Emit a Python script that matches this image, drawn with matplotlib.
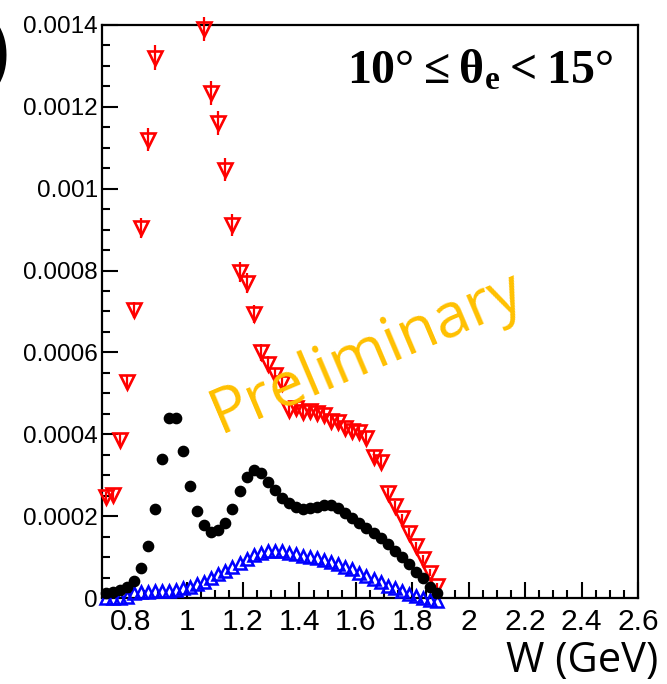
import numpy as np
import matplotlib
matplotlib.use('Agg')
import matplotlib.pyplot as plt
from matplotlib.ticker import MultipleLocator, FuncFormatter

nan = np.nan

# bin centres in W (GeV)
W = [0.7125, 0.7375, 0.7625, 0.7875, 0.8125, 0.8375, 0.8625, 0.8875,
     0.9125, 0.9375, 0.9625, 0.9875, 1.0125, 1.0375, 1.0625, 1.0875,
     1.1125, 1.1375, 1.1625, 1.1875, 1.2125, 1.2375, 1.2625, 1.2875,
     1.3125, 1.3375, 1.3625, 1.3875, 1.4125, 1.4375, 1.4625, 1.4875,
     1.5125, 1.5375, 1.5625, 1.5875, 1.6125, 1.6375, 1.6625, 1.6875,
     1.7125, 1.7375, 1.7625, 1.7875, 1.8125, 1.8375, 1.8625, 1.8875]

# red open down-triangles (off scale between 0.9 and 1.05)
red = [0.000247, 0.000252, 0.000386, 0.000528, 0.000704, 0.000904, 0.00112, 0.00132,
       nan, nan, nan, nan, nan, nan, 0.00139, 0.001234,
       0.00116, 0.001046, 0.000911, 0.000796, 0.00077, 0.000693, 0.0006, 0.000571,
       0.000545, 0.000525, 0.00046, 0.000464, 0.000455, 0.000458, 0.000452, 0.000446,
       0.000432, 0.00043, 0.000416, 0.000408, 0.000405, 0.00039, 0.000345, 0.000333,
       0.000257, 0.000225, 0.000195, 0.00016, 0.000128, 0.000095, 0.000062, 0.00003]
red_err = [0.000012, 0.000012, 0.000015, 0.000018, 0.00002, 0.000024, 0.000028, 0.00003,
           nan, nan, nan, nan, nan, nan, 0.00003, 0.00003,
           0.00003, 0.000028, 0.000026, 0.000024, 0.000024, 0.000022, 0.00002, 0.00002,
           0.000018, 0.000018, 0.000016, 0.000016, 0.000016, 0.000016, 0.000016, 0.000016,
           0.000015, 0.000015, 0.000015, 0.000015, 0.000015, 0.000015, 0.000014, 0.000014,
           0.000012, 0.000012, 0.000011, 0.00001, 0.00001, 0.000009, 0.000008, 0.000006]

# black filled circles
black = [0.000012, 0.000015, 0.00002, 0.000027, 0.000042, 0.000073, 0.000127, 0.000217,
         0.00034, 0.00044, 0.00044, 0.000359, 0.000274, 0.000213, 0.000178, 0.000161,
         0.000166, 0.000183, 0.000217, 0.000262, 0.000295, 0.000312, 0.000305, 0.000283,
         0.000264, 0.000244, 0.000232, 0.000222, 0.000217, 0.00022, 0.000222, 0.000227,
         0.000227, 0.00022, 0.000208, 0.000195, 0.000183, 0.000171, 0.000159, 0.000147,
         0.000132, 0.000115, 0.0001, 0.000083, 0.000064, 0.000049, 0.000027, 0.000012]

# blue open up-triangles
blue = [0.0, 0.0, 0.0, 0.000003, 0.000013, 0.000014, 0.000015, 0.000016,
        0.000017, 0.000018, 0.000019, 0.000024, 0.000027, 0.000034, 0.00004, 0.00005,
        0.000058, 0.000066, 0.000077, 0.000086, 0.000096, 0.000104, 0.00011, 0.000114,
        0.000115, 0.000114, 0.000111, 0.000107, 0.000103, 0.0001, 0.000097, 0.000093,
        0.000088, 0.000083, 0.000076, 0.00007, 0.000062, 0.000054, 0.000046, 0.000038,
        0.00003, 0.000024, 0.000017, 0.000011, 0.000005, 0.0, -0.000004, -0.000008]

fig = plt.figure(figsize=(6.67, 6.84), dpi=100)
ax = fig.add_axes([0.1529, 0.1257, 0.8036, 0.8378])

ax.plot(W, blue, '^', ms=9, mfc='none', mec='blue', mew=1.8, clip_on=False, zorder=3)
ax.errorbar(W, red, yerr=red_err, fmt='v', ms=9.5, mfc='none', mec='red', mew=1.9,
            ecolor='red', elinewidth=1.6, capsize=0, clip_on=False, zorder=4)
ax.plot(W, black, 'o', ms=7.4, color='black', clip_on=False, zorder=5)

ax.set_xlim(0.7, 2.6)
ax.set_ylim(0, 0.0014)

ax.xaxis.set_major_locator(MultipleLocator(0.2))
ax.xaxis.set_minor_locator(MultipleLocator(0.05))
ax.yaxis.set_major_locator(MultipleLocator(0.0002))
ax.yaxis.set_minor_locator(MultipleLocator(0.00005))
fmt = FuncFormatter(lambda v, p: '%g' % round(v, 6))
ax.xaxis.set_major_formatter(fmt)
ax.yaxis.set_major_formatter(fmt)

ax.tick_params(which='both', direction='in', top=False, right=False, width=1.5)
ax.tick_params(which='major', length=11.5)
ax.tick_params(which='minor', length=6)
ax.tick_params(axis='x', which='major', labelsize=21.5, pad=7)
ax.tick_params(axis='y', which='major', labelsize=17.5, pad=3)
for lab in ax.get_xticklabels() + ax.get_yticklabels():
    lab.set_family('Liberation Sans')
for s in ax.spines.values():
    s.set_linewidth(1.6)

plt.rcParams['mathtext.fontset'] = 'custom'
plt.rcParams['mathtext.bf'] = 'Liberation Serif:bold'
plt.rcParams['mathtext.rm'] = 'Liberation Serif:bold'
ax.text(0.953, 0.921, r'$\mathbf{10°\leq\theta_{e}<15°}$', transform=ax.transAxes,
        ha='right', va='center', fontsize=34.5)

ax.text(1.64, 0.000598, 'Preliminary', color='#FFC000', family='Open Sans',
        fontsize=45, rotation=23, rotation_mode='anchor', ha='center', va='center', zorder=6)

fig.text(658/667, 1 - 672/684, 'W (GeV)', family='Open Sans', fontsize=30,
         ha='right', va='baseline')

# clipped panel label from the left edge
fig.text(-0.021, 1 - 55/684, ')', family='Liberation Sans', weight='bold', fontsize=52,
         ha='left', va='center')

fig.savefig('out.png', dpi=100)
